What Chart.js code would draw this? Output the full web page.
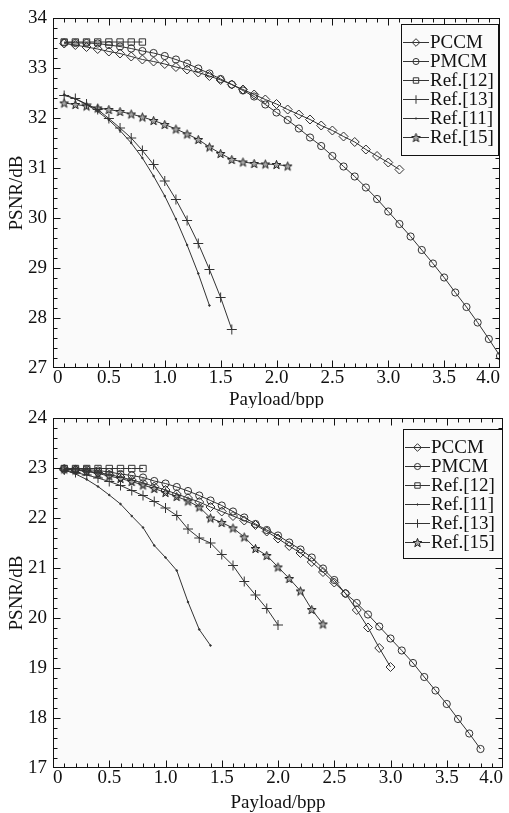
<!DOCTYPE html>
<html>
<head>
<meta charset="utf-8">
<script src="https://cdn.jsdelivr.net/npm/chart.js@4.4.0/dist/chart.umd.min.js"></script>
<style>
  html, body { margin: 0; padding: 0; background: #fff; }
  #wrap { position: relative; width: 509px; height: 813px; }
  .panel { position: absolute; left: 0; width: 509px; }
</style>
</head>
<body>
<div id="wrap">
  <div class="panel" style="top:0;height:408px"><canvas id="upper" width="509" height="408"></canvas></div>
  <div class="panel" style="top:408px;height:405px"><canvas id="lower" width="509" height="405"></canvas></div>
</div>
<script>
// payload axis (bpp), every series starts at 0.1 and runs as far as it has values
const payload = [0.1, 0.2, 0.3, 0.4, 0.5, 0.6, 0.7, 0.8, 0.9, 1.0,
                 1.1, 1.2, 1.3, 1.4, 1.5, 1.6, 1.7, 1.8, 1.9, 2.0,
                 2.1, 2.2, 2.3, 2.4, 2.5, 2.6, 2.7, 2.8, 2.9, 3.0,
                 3.1, 3.2, 3.3, 3.4, 3.5, 3.6, 3.7, 3.8, 3.9, 4.0];

// --- upper panel (PSNR/dB) ---
const upperPCCM = [33.49, 33.46, 33.42, 33.38, 33.33, 33.29, 33.23, 33.17, 33.13, 33.08,
                   33.02, 32.97, 32.91, 32.84, 32.76, 32.67, 32.57, 32.47, 32.37, 32.28,
                   32.17, 32.07, 31.97, 31.85, 31.75, 31.63, 31.52, 31.37, 31.24, 31.11, 30.97];
const upperPMCM = [33.51, 33.50, 33.50, 33.49, 33.46, 33.43, 33.39, 33.34, 33.30, 33.24,
                   33.17, 33.09, 32.99, 32.89, 32.78, 32.67, 32.55, 32.43, 32.27, 32.11,
                   31.96, 31.79, 31.61, 31.44, 31.24, 31.03, 30.83, 30.61, 30.38, 30.13,
                   29.88, 29.63, 29.36, 29.09, 28.81, 28.51, 28.22, 27.91, 27.58, 27.24];
const upperRef12 = [33.52, 33.52, 33.52, 33.52, 33.52, 33.52, 33.52, 33.52];
const upperRef13 = [32.45, 32.39, 32.28, 32.17, 31.99, 31.80, 31.60, 31.35, 31.07, 30.74,
                    30.37, 29.95, 29.49, 28.97, 28.41, 27.77];
const upperRef11 = [32.47, 32.38, 32.27, 32.13, 31.96, 31.75, 31.50, 31.20, 30.84, 30.44,
                    29.98, 29.46, 28.89, 28.25];
const upperRef15 = [32.30, 32.27, 32.24, 32.20, 32.17, 32.13, 32.08, 32.02, 31.95, 31.87,
                    31.78, 31.68, 31.57, 31.42, 31.29, 31.17, 31.12, 31.09, 31.08, 31.07, 31.04];

// --- lower panel ---
const lowerPCCM = [22.97, 22.96, 22.94, 22.91, 22.87, 22.82, 22.76, 22.70, 22.63, 22.56,
                   22.48, 22.40, 22.32, 22.22, 22.13, 22.04, 21.95, 21.86, 21.73, 21.59,
                   21.44, 21.30, 21.12, 20.92, 20.71, 20.49, 20.16, 19.81, 19.40, 19.02];
const lowerPMCM = [22.99, 22.98, 22.97, 22.95, 22.92, 22.88, 22.85, 22.81, 22.74, 22.69,
                   22.62, 22.54, 22.45, 22.35, 22.25, 22.13, 22.01, 21.88, 21.76, 21.65,
                   21.51, 21.37, 21.21, 20.99, 20.76, 20.49, 20.30, 20.07, 19.83, 19.59,
                   19.35, 19.10, 18.82, 18.55, 18.28, 17.98, 17.69, 17.38];
const lowerRef12 = [22.99, 22.99, 22.99, 22.99, 22.99, 22.99, 22.99, 22.99];
const lowerRef11 = [22.96, 22.88, 22.77, 22.63, 22.46, 22.28, 22.04, 21.81, 21.45, 21.21,
                    20.95, 20.32, 19.77, 19.45];
const lowerRef13 = [22.96, 22.91, 22.86, 22.80, 22.73, 22.65, 22.55, 22.45, 22.33, 22.20,
                    22.05, 21.78, 21.60, 21.50, 21.27, 21.05, 20.73, 20.46, 20.19, 19.86];
const lowerRef15 = [22.98, 22.96, 22.93, 22.89, 22.84, 22.79, 22.73, 22.66, 22.59, 22.51,
                    22.43, 22.34, 22.22, 22.00, 21.91, 21.80, 21.62, 21.39, 21.25, 21.02,
                    20.79, 20.54, 20.17, 19.88];

const INK = '#333';
const PLOT_BG = '#fafafa';
const FONT = "'Liberation Serif', 'Times New Roman', serif";

// five point star marker for Ref.[15]
function starMarker() {
  const c = document.createElement('canvas');
  c.width = 11; c.height = 11;
  const g = c.getContext('2d');
  g.beginPath();
  for (let i = 0; i < 10; i++) {
    const r = i % 2 ? 1.9 : 4.6;
    const a = -Math.PI / 2 + i * Math.PI / 5;
    const px = 5.5 + r * Math.cos(a), py = 6 + r * Math.sin(a);
    if (i) g.lineTo(px, py); else g.moveTo(px, py);
  }
  g.closePath();
  g.fillStyle = '#a8a8a8';
  g.fill();
  g.strokeStyle = '#222';
  g.lineWidth = 1;
  g.stroke();
  return c;
}

const markers = {
  'PCCM':     { style: 'rectRot', r: 4.5 },
  'PMCM':     { style: 'circle',  r: 3.6 },
  'Ref.[12]': { style: 'rect',    r: 4.5 },
  'Ref.[13]': { style: 'cross',   r: 5 },
  'Ref.[11]': { style: 'circle',  r: 0.8, fill: INK },
  'Ref.[15]': { style: starMarker(), r: 5 }
};

function series(label, values) {
  const m = markers[label];
  return {
    label,
    data: values.map((v, i) => ({ x: payload[i], y: v })),
    borderColor: INK,
    borderWidth: 1,
    pointStyle: m.style,
    pointRadius: m.r,
    pointBorderColor: INK,
    pointBorderWidth: 1,
    pointBackgroundColor: m.fill || 'rgba(0,0,0,0)',
    tension: 0,
    fill: false
  };
}

const plotBackground = {
  id: 'plotBackground',
  beforeDraw(chart) {
    const { ctx, chartArea: a } = chart;
    ctx.save();
    ctx.fillStyle = PLOT_BG;
    ctx.fillRect(a.left, a.top, a.right - a.left, a.bottom - a.top);
    ctx.restore();
  }
};

// box frame with inward major/minor ticks on all four sides
const frameTicks = {
  id: 'frameTicks',
  afterDraw(chart) {
    const { ctx, chartArea: a, scales: { x, y } } = chart;
    const L = Math.round(a.left) + 0.5, R = Math.round(a.right) - 0.5;
    const T = Math.round(a.top) + 0.5, B = Math.round(a.bottom) - 0.5;
    ctx.save();
    ctx.strokeStyle = '#111';
    ctx.lineWidth = 1;
    ctx.strokeRect(L, T, R - L, B - T);
    ctx.beginPath();
    for (let i = 1; i < 40; i++) {
      const px = Math.round(x.getPixelForValue(i / 10)) + 0.5;
      const len = i % 5 === 0 ? 7 : 4;
      ctx.moveTo(px, B); ctx.lineTo(px, B - len);
      ctx.moveTo(px, T); ctx.lineTo(px, T + len);
    }
    for (let i = 1; i < 35; i++) {
      const py = Math.round(y.getPixelForValue(y.min + i * 0.2)) + 0.5;
      const len = i % 5 === 0 ? 7 : 4;
      ctx.moveTo(L, py); ctx.lineTo(L + len, py);
      ctx.moveTo(R, py); ctx.lineTo(R - len, py);
    }
    ctx.stroke();
    ctx.restore();
  }
};

// legend box inside the plot, drawn last so it covers lines and ticks
const boxLegend = {
  id: 'boxLegend',
  afterDraw(chart, args, o) {
    const ctx = chart.ctx;
    ctx.save();
    ctx.fillStyle = PLOT_BG;
    ctx.fillRect(o.left, o.top, o.right - o.left, o.bottom - o.top);
    ctx.strokeStyle = '#111';
    ctx.lineWidth = 1;
    ctx.strokeRect(o.left + 0.5, o.top + 0.5, o.right - o.left - 1, o.bottom - o.top - 1);
    ctx.font = '19px ' + FONT;
    ctx.textBaseline = 'middle';
    chart.data.datasets.forEach((ds, i) => {
      const yy = Math.round(o.first + i * o.step) + 0.5;
      ctx.strokeStyle = INK;
      ctx.beginPath();
      ctx.moveTo(o.x0, yy);
      ctx.lineTo(o.x1, yy);
      ctx.stroke();
      ctx.fillStyle = ds.pointBackgroundColor;
      Chart.helpers.drawPoint(ctx, {
        pointStyle: ds.pointStyle,
        radius: ds.pointRadius * 0.85,
        borderWidth: 1,
        rotation: 0
      }, (o.x0 + o.x1) / 2, yy);
      ctx.fillStyle = '#111';
      ctx.fillText(ds.label, o.x1 + 1, yy + 1);
    });
    ctx.restore();
  }
};

function makeChart(id, datasets, yMin, yMax, geo) {
  const tickFont = { family: FONT, size: 19, lineHeight: 1 };
  return new Chart(document.getElementById(id), {
    type: 'line',
    data: { datasets },
    plugins: [plotBackground, frameTicks, boxLegend],
    options: {
      responsive: false,
      animation: false,
      layout: { padding: { left: 0, right: geo.right, top: geo.top, bottom: 0 } },
      plugins: {
        legend: { display: false },
        tooltip: { enabled: false },
        boxLegend: geo.legend
      },
      scales: {
        x: {
          type: 'linear',
          min: 0,
          max: 4,
          grid: { display: false, drawTicks: false },
          border: { display: false },
          ticks: {
            stepSize: 0.5,
            padding: 1,
            align: 'inner',
            color: '#111',
            font: tickFont,
            maxRotation: 0,
            autoSkip: false,
            callback: v => v === 0 ? '0' : v.toFixed(1)
          },
          title: {
            display: true,
            text: 'Payload/bpp',
            color: '#111',
            font: tickFont,
            padding: { top: 0, bottom: geo.titleGap }
          },
          afterFit: s => {
            s.height = geo.xHeight;
            s.paddingLeft = 0;
            s.paddingRight = 0;
          }
        },
        y: {
          min: yMin,
          max: yMax,
          grid: { display: false, drawTicks: false },
          border: { display: false },
          ticks: { stepSize: 1, padding: 6, color: '#111', font: tickFont },
          title: {
            display: true,
            text: 'PSNR/dB',
            color: '#111',
            font: tickFont,
            padding: { top: 8, bottom: 0 }
          },
          afterFit: s => {
            s.width = 53;
            s.paddingTop = 0;
            s.paddingBottom = 0;
          }
        }
      }
    }
  });
}

makeChart('upper', [
  series('PCCM', upperPCCM),
  series('PMCM', upperPMCM),
  series('Ref.[12]', upperRef12),
  series('Ref.[13]', upperRef13),
  series('Ref.[11]', upperRef11),
  series('Ref.[15]', upperRef15)
], 27, 34, {
  right: 9, top: 18, xHeight: 40, titleGap: -2,
  legend: { left: 401, top: 24, right: 499, bottom: 156, x0: 403, x1: 429, first: 41.5, step: 19 }
});

makeChart('lower', [
  series('PCCM', lowerPCCM),
  series('PMCM', lowerPMCM),
  series('Ref.[12]', lowerRef12),
  series('Ref.[11]', lowerRef11),
  series('Ref.[13]', lowerRef13),
  series('Ref.[15]', lowerRef15)
], 17, 24, {
  right: 6, top: 10, xHeight: 45, titleGap: 0,
  legend: { left: 403, top: 21, right: 503, bottom: 151, x0: 405, x1: 430, first: 38.5, step: 19 }
});
</script>
</body>
</html>
